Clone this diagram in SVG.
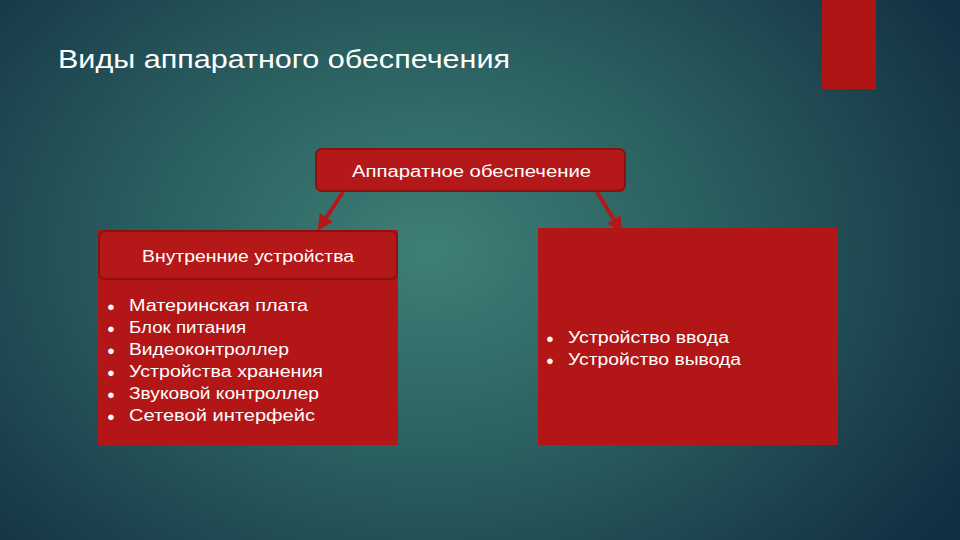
<svg xmlns="http://www.w3.org/2000/svg" width="960" height="540" viewBox="0 0 960 540">
<defs>
<radialGradient id="bg" cx="430" cy="250" r="620" gradientUnits="userSpaceOnUse" gradientTransform="translate(430 250) scale(1 0.75) translate(-430 -250)">
<stop offset="0" stop-color="#3f7f76"/>
<stop offset="0.45" stop-color="#2a5f60"/>
<stop offset="1" stop-color="#132f42"/>
</radialGradient>
<marker id="ah" viewBox="0 0 10 10" refX="5" refY="5" markerWidth="4" markerHeight="4" orient="auto">
<path d="M0,0 L10,5 L0,10 z" fill="#b51717"/>
</marker>
<style>
.t{font-family:"Liberation Sans","DejaVu Sans",sans-serif;fill:#ffffff;}
.box{fill:#b21616;}
.hdr{fill:#b51818;stroke:#8c1010;stroke-width:2;}
.li{font-size:16px;}
.b{font-size:13px;}
</style>
</defs>
<rect width="960" height="540" fill="url(#bg)"/>
<rect x="822" y="0" width="54" height="89" fill="#b01515"/>
<text class="t" x="58" y="68" font-size="25" textLength="452" lengthAdjust="spacingAndGlyphs">Виды аппаратного обеспечения</text>
<g id="connectors">
<line x1="343" y1="192" x2="322" y2="224" stroke="#b51717" stroke-width="4" marker-end="url(#ah)"/>
<line x1="597" y1="192" x2="618" y2="226" stroke="#b51717" stroke-width="4" marker-end="url(#ah)"/>
</g>
<g id="top">
<rect class="hdr" x="316" y="149" width="309" height="42" rx="6"/>
<text class="t" x="352" y="177" font-size="16" textLength="239" lengthAdjust="spacingAndGlyphs">Аппаратное обеспечение</text>
</g>
<g id="left">
<rect class="box" x="98" y="230" width="300" height="215"/>
<rect class="hdr" x="99" y="231" width="298" height="48" rx="6"/>
<text class="t" x="142" y="262" font-size="16" textLength="212" lengthAdjust="spacingAndGlyphs">Внутренние устройства</text>
<g class="t li">
<text class="b" x="107" y="311">●</text><text x="129" y="311" textLength="179" lengthAdjust="spacingAndGlyphs">Материнская плата</text>
<text class="b" x="107" y="333">●</text><text x="129" y="333" textLength="117" lengthAdjust="spacingAndGlyphs">Блок питания</text>
<text class="b" x="107" y="355">●</text><text x="129" y="355" textLength="160" lengthAdjust="spacingAndGlyphs">Видеоконтроллер</text>
<text class="b" x="107" y="377">●</text><text x="129" y="377" textLength="194" lengthAdjust="spacingAndGlyphs">Устройства хранения</text>
<text class="b" x="107" y="399">●</text><text x="129" y="399" textLength="190" lengthAdjust="spacingAndGlyphs">Звуковой контроллер</text>
<text class="b" x="107" y="421">●</text><text x="129" y="421" textLength="186" lengthAdjust="spacingAndGlyphs">Сетевой интерфейс</text>
</g>
</g>
<g id="right">
<rect class="box" x="538" y="228" width="300" height="217"/>
<g class="t li">
<text class="b" x="546" y="343">●</text><text x="568" y="343" textLength="161" lengthAdjust="spacingAndGlyphs">Устройство ввода</text>
<text class="b" x="546" y="365">●</text><text x="568" y="365" textLength="173" lengthAdjust="spacingAndGlyphs">Устройство вывода</text>
</g>
</g>
</svg>
